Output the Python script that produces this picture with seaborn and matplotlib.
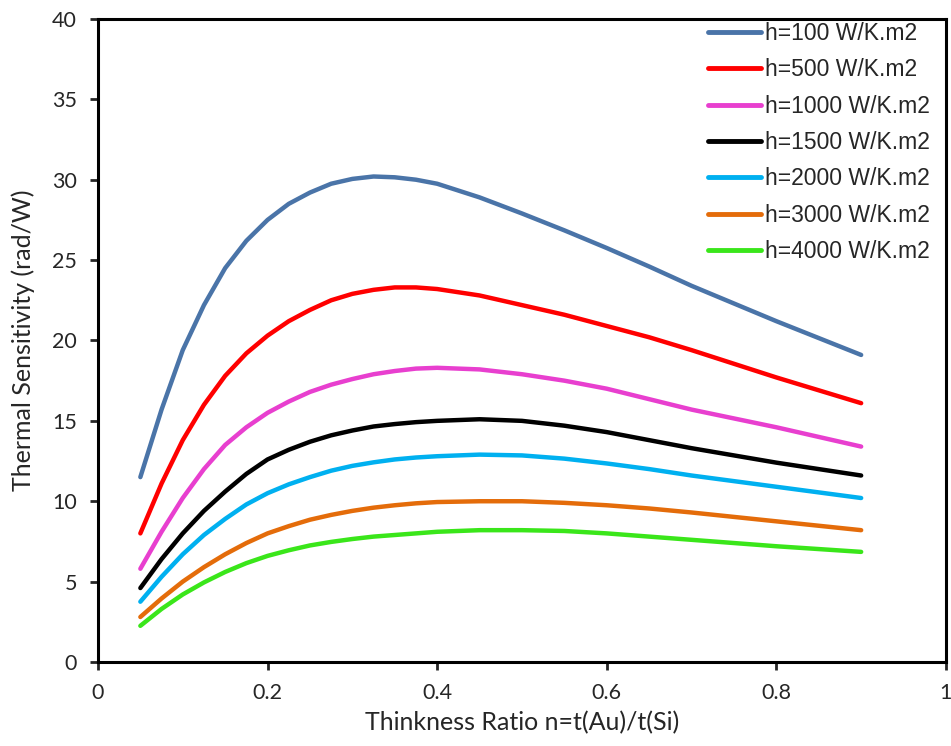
import numpy as np
import pandas as pd
import matplotlib
matplotlib.use("Agg")
import matplotlib.pyplot as plt
import seaborn as sns

x_vals = [0.05, 0.075, 0.1, 0.125, 0.15, 0.175, 0.2, 0.225, 0.25, 0.275, 0.3,
          0.325, 0.35, 0.375, 0.4, 0.45, 0.5, 0.55, 0.6, 0.65, 0.7, 0.8, 0.9]

h100 = [11.5, 15.7, 19.4, 22.2, 24.5, 26.2, 27.5, 28.5, 29.2, 29.75, 30.05,
        30.2, 30.15, 30.0, 29.75, 28.9, 27.9, 26.85, 25.75, 24.6, 23.4, 21.2, 19.1]
h500 = [8.0, 11.1, 13.8, 16.0, 17.8, 19.2, 20.3, 21.2, 21.9, 22.5, 22.9,
        23.15, 23.3, 23.3, 23.2, 22.8, 22.2, 21.6, 20.9, 20.2, 19.4, 17.7, 16.1]
h1000 = [5.8, 8.1, 10.2, 12.0, 13.5, 14.6, 15.5, 16.2, 16.8, 17.25, 17.6,
         17.9, 18.1, 18.25, 18.3, 18.2, 17.9, 17.5, 17.0, 16.35, 15.7, 14.6, 13.4]
h1500 = [4.6, 6.4, 8.0, 9.4, 10.6, 11.7, 12.6, 13.2, 13.7, 14.1, 14.4,
         14.65, 14.8, 14.92, 15.0, 15.1, 15.0, 14.7, 14.3, 13.8, 13.3, 12.4, 11.6]
h2000 = [3.75, 5.3, 6.7, 7.9, 8.9, 9.8, 10.5, 11.05, 11.5, 11.9, 12.2,
         12.42, 12.6, 12.72, 12.8, 12.9, 12.85, 12.65, 12.35, 12.0, 11.6, 10.9, 10.2]
h3000 = [2.8, 3.95, 5.0, 5.9, 6.7, 7.4, 8.0, 8.45, 8.85, 9.15, 9.4,
         9.6, 9.75, 9.87, 9.95, 10.0, 10.0, 9.9, 9.75, 9.55, 9.3, 8.75, 8.2]
h4000 = [2.25, 3.3, 4.2, 4.95, 5.6, 6.15, 6.6, 6.95, 7.25, 7.47, 7.65,
         7.8, 7.9, 8.0, 8.1, 8.2, 8.2, 8.15, 8.0, 7.8, 7.6, 7.2, 6.85]

labels = ["h=100 W/K.m2", "h=500 W/K.m2", "h=1000 W/K.m2", "h=1500 W/K.m2",
          "h=2000 W/K.m2", "h=3000 W/K.m2", "h=4000 W/K.m2"]
series = [h100, h500, h1000, h1500, h2000, h3000, h4000]
colors = ["#4A74A8", "#FF0000", "#E83FCF", "#000000", "#00B0F0", "#E46C0A", "#3AE61A"]

df = pd.concat([pd.DataFrame({"x": x_vals, "y": s, "series": lab})
                for s, lab in zip(series, labels)], ignore_index=True)

sns.set_style("white")
plt.rcParams['font.family'] = ['Lato', 'DejaVu Sans']

fig = plt.figure(figsize=(9.51, 7.46), dpi=100)
ax = fig.add_axes([0.103, 0.1126, 0.8917, 0.862])

sns.lineplot(data=df, x="x", y="y", hue="series", hue_order=labels,
             palette=colors, linewidth=3.2, ax=ax, sort=True,
             solid_capstyle="round", solid_joinstyle="round")

ax.set_xlim(0, 1)
ax.set_ylim(0, 40)
ax.set_xticks([0, 0.2, 0.4, 0.6, 0.8, 1])
ax.set_xticklabels(["0", "0.2", "0.4", "0.6", "0.8", "1"])
ax.set_yticks(range(0, 41, 5))
ax.tick_params(axis="both", direction="out", length=6, width=2, labelsize=15.5,
               bottom=True, left=True)
ax.tick_params(axis="x", pad=9)
ax.tick_params(axis="y", pad=9)
for sp in ax.spines.values():
    sp.set_linewidth(2.2)
    sp.set_color("black")

ax.set_xlabel("Thinkness Ratio n=t(Au)/t(Si)", fontsize=18, labelpad=6)
ax.set_ylabel("Thermal Sensitivity (rad/W)", fontsize=18, labelpad=12)

leg = ax.legend(loc="upper right", bbox_to_anchor=(1.0, 1.02), frameon=False,
                prop={"family": "Liberation Sans", "size": 16.5},
                handlelength=2.3, handletextpad=0.18,
                labelspacing=0.58, borderaxespad=0.3)
for line in leg.get_lines():
    line.set_linewidth(3.5)
    line.set_solid_capstyle("round")

fig.savefig("out.png", dpi=100)
